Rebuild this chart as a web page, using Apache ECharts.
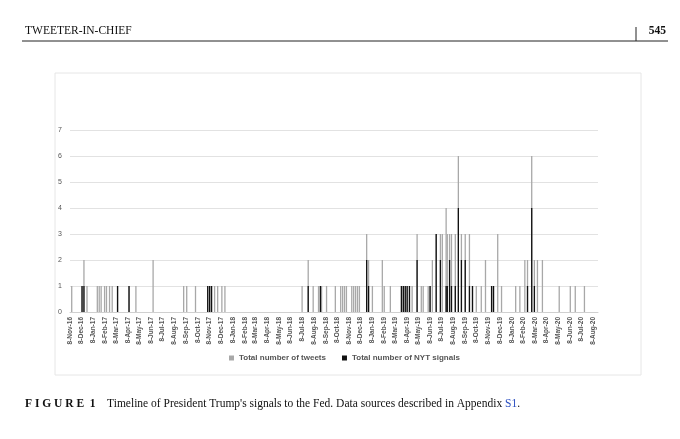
<!DOCTYPE html>
<html>
<head>
<meta charset="utf-8">
<script src="https://cdn.jsdelivr.net/npm/echarts@6/dist/echarts.min.js"></script>
<style>
  html, body { margin: 0; padding: 0; background: #fff; }
  #chart { width: 680px; height: 439px; }
</style>
</head>
<body>
<div id="chart"></div>
<script>
const startDate = "2016-11-08";
const endDate = "2020-08-20";

// [date, total tweets]
const tweetEvents = [
  ["2016-11-12", 1], ["2016-12-09", 1], ["2016-12-14", 2], ["2016-12-22", 1],
  ["2017-01-18", 1], ["2017-01-23", 1], ["2017-01-28", 1], ["2017-02-06", 1],
  ["2017-02-11", 1], ["2017-02-19", 1], ["2017-02-26", 1], ["2017-03-12", 1],
  ["2017-04-11", 1], ["2017-04-29", 1], ["2017-06-13", 2], ["2017-09-01", 1],
  ["2017-09-09", 1], ["2017-10-02", 1], ["2017-11-03", 1], ["2017-11-08", 1],
  ["2017-11-13", 1], ["2017-11-21", 1], ["2017-11-29", 1], ["2017-12-10", 1],
  ["2017-12-18", 1], ["2018-07-08", 1], ["2018-07-24", 2], ["2018-08-06", 1],
  ["2018-08-20", 1], ["2018-08-25", 1], ["2018-08-28", 1], ["2018-09-10", 1],
  ["2018-10-03", 1], ["2018-10-17", 1], ["2018-10-22", 1], ["2018-10-27", 1],
  ["2018-11-01", 1], ["2018-11-15", 1], ["2018-11-20", 1], ["2018-11-25", 1],
  ["2018-11-30", 1], ["2018-12-05", 1], ["2018-12-24", 3], ["2018-12-29", 2],
  ["2019-01-08", 1], ["2019-02-03", 2], ["2019-02-08", 1], ["2019-02-24", 1],
  ["2019-03-25", 1], ["2019-03-30", 1], ["2019-04-04", 1], ["2019-04-09", 1],
  ["2019-04-15", 1], ["2019-04-22", 1], ["2019-05-05", 3], ["2019-05-16", 1],
  ["2019-05-21", 1], ["2019-06-03", 1], ["2019-06-08", 1], ["2019-06-14", 2],
  ["2019-06-24", 3], ["2019-07-05", 3], ["2019-07-10", 3], ["2019-07-20", 4],
  ["2019-07-23", 3], ["2019-07-29", 3], ["2019-08-03", 3], ["2019-08-13", 3],
  ["2019-08-21", 6], ["2019-08-29", 3], ["2019-09-08", 3], ["2019-09-19", 3],
  ["2019-09-27", 1], ["2019-10-07", 1], ["2019-10-20", 1], ["2019-10-31", 2],
  ["2019-11-16", 1], ["2019-11-21", 1], ["2019-12-02", 3], ["2019-12-12", 1],
  ["2020-01-18", 1], ["2020-01-29", 1], ["2020-02-11", 2], ["2020-02-18", 2],
  ["2020-02-29", 6], ["2020-03-07", 2], ["2020-03-15", 2], ["2020-03-28", 2],
  ["2020-05-11", 1], ["2020-06-09", 1], ["2020-06-22", 1], ["2020-07-16", 1]
];

// [date, total NYT signals]
const nytEvents = [
  ["2016-12-09", 1], ["2016-12-14", 1], ["2017-03-12", 1], ["2017-04-11", 1],
  ["2017-11-03", 1], ["2017-11-08", 1], ["2017-11-13", 1], ["2018-07-24", 1],
  ["2018-08-25", 1], ["2018-12-24", 2], ["2018-12-29", 1], ["2019-03-25", 1],
  ["2019-03-30", 1], ["2019-04-04", 1], ["2019-04-09", 1], ["2019-04-15", 1],
  ["2019-05-05", 2], ["2019-06-08", 1], ["2019-06-24", 3], ["2019-07-05", 2],
  ["2019-07-20", 1], ["2019-07-23", 1], ["2019-07-29", 2], ["2019-08-03", 1],
  ["2019-08-13", 1], ["2019-08-21", 4], ["2019-08-29", 2], ["2019-09-08", 2],
  ["2019-09-19", 1], ["2019-09-27", 1], ["2019-11-16", 1], ["2019-11-21", 1],
  ["2020-02-18", 1], ["2020-02-29", 4], ["2020-03-07", 1]
];

const months = ["Jan","Feb","Mar","Apr","May","Jun","Jul","Aug","Sep","Oct","Nov","Dec"];

// daily categories
const days = [];
for (let t = Date.parse(startDate); t <= Date.parse(endDate); t += 86400000) {
  days.push(new Date(t).toISOString().slice(0, 10));
}

function toSeries(events) {
  const map = {};
  events.forEach(([d, v]) => { map[d] = v; });
  return days.map((d) => (map[d] !== undefined ? map[d] : null));
}

function tickLabel(d) {
  const [y, m, dd] = d.split("-");
  return +dd + "-" + months[+m - 1] + "-" + y.slice(2);
}

const chart = echarts.init(document.getElementById("chart"));
chart.setOption({
  animation: false,
  grid: { left: 70, right: 82, top: 130, bottom: 127 },
  xAxis: {
    type: "category",
    data: days,
    axisLine: { lineStyle: { color: "#d0d0d0" } },
    axisTick: { show: false },
    axisLabel: {
      interval: (i, v) => v.slice(8) === "08",
      rotate: 90,
      fontSize: 6.5,
      color: "#555",
      fontFamily: "Liberation Sans",
      fontWeight: "bold",
      margin: 5,
      formatter: tickLabel,
    },
  },
  yAxis: {
    type: "value",
    min: 0,
    max: 7,
    interval: 1,
    axisLine: { show: false },
    axisTick: { show: false },
    axisLabel: { fontSize: 7, color: "#555", margin: 8 },
    splitLine: { lineStyle: { color: "#e2e2e2" } },
  },
  legend: {
    bottom: 72,
    left: 224,
    itemWidth: 5,
    itemHeight: 5,
    itemGap: 16,
    icon: "rect",
    textStyle: { fontSize: 8, color: "#555", fontWeight: "bold", fontFamily: "Liberation Sans" },
    data: ["Total number of tweets", "Total number of NYT signals"],
  },
  series: [
    {
      name: "Total number of tweets",
      type: "bar",
      barWidth: 1.3,
      barGap: "-100%",
      itemStyle: { color: "#a8a8a8" },
      data: toSeries(tweetEvents),
    },
    {
      name: "Total number of NYT signals",
      type: "bar",
      barWidth: 1.3,
      itemStyle: { color: "#111" },
      data: toSeries(nytEvents),
    },
  ],
  graphic: [
    { type: "text", left: 25, top: 25, style: { text: "TWEETER-IN-CHIEF", font: "11.5px 'Liberation Serif'", fill: "#111" } },
    { type: "text", right: 14, top: 25, style: { text: "545", font: "bold 11.5px 'Liberation Serif'", fill: "#111" } },
    { type: "line", shape: { x1: 22, y1: 41, x2: 668, y2: 41 }, style: { stroke: "#222", lineWidth: 1 } },
    { type: "line", shape: { x1: 636, y1: 27, x2: 636, y2: 41 }, style: { stroke: "#222", lineWidth: 1 } },
    { type: "rect", shape: { x: 55, y: 73, width: 586, height: 302 }, style: { fill: "none", stroke: "#e6e6e6", lineWidth: 1 } },
    {
      type: "text", left: 25, top: 398,
      style: {
        text: "{b|F I G U R E  1}    Timeline of President Trump's signals to the Fed. Data sources described in Appendix {s|S1}.",
        font: "11.5px 'Liberation Serif'",
        fill: "#111",
        rich: {
          b: { font: "bold 11.5px 'Liberation Serif'", fill: "#111" },
          s: { font: "11.5px 'Liberation Serif'", fill: "#2a4ec0" },
        },
      },
    },
  ],
});
</script>
</body>
</html>
